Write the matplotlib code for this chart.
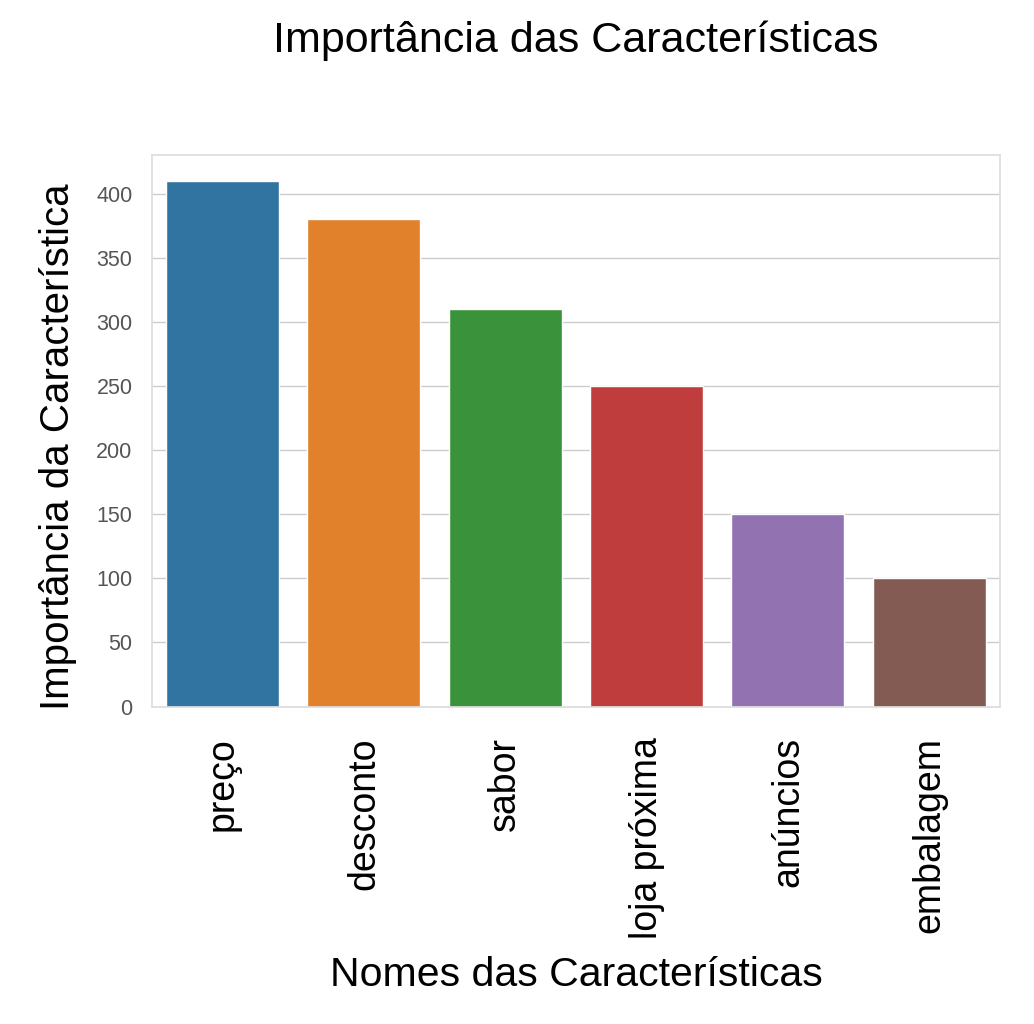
import matplotlib
matplotlib.use("Agg")
import matplotlib.pyplot as plt
import seaborn as sns

features = ["preço", "desconto", "sabor", "loja próxima", "anúncios", "embalagem"]
importance = [410, 380, 310, 250, 150, 100]

sns.set_theme(style="whitegrid")
plt.rcParams["font.family"] = ["Liberation Sans", "DejaVu Sans"]

fig, ax = plt.subplots(figsize=(10.34, 10.24), dpi=100)
sns.barplot(x=features, y=importance, hue=features, palette="tab10",
            legend=False, ax=ax)

ax.set_title("Importância das Características", fontsize=31, pad=74, color="black")
ax.set_xlabel("Nomes das Características", fontsize=29.5, color="black", labelpad=12)
ax.set_ylabel("Importância da Característica", fontsize=29, color="black", labelpad=14)
ax.yaxis.label.set_y(0.47)
ax.tick_params(axis="x", labelsize=27, rotation=90, labelcolor="black", pad=16)
ax.tick_params(axis="y", labelsize=15.5, labelcolor="#555555", pad=8)
ax.grid(axis="x", visible=False)
for s in ax.spines.values():
    s.set_color("#dddddd")

fig.subplots_adjust(left=0.147, right=0.967, top=0.849, bottom=0.31)
fig.savefig("out.png", dpi=100)
